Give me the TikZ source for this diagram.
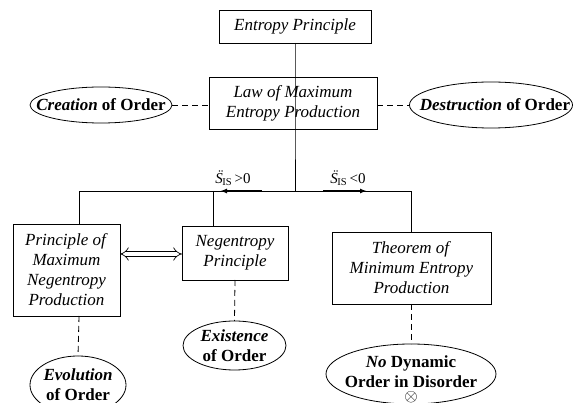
\documentclass[tikz,border=0pt]{standalone}
\usepackage{fontspec}
\setmainfont{Liberation Serif}
\usetikzlibrary{arrows.meta,shapes.geometric}
\newcommand{\myS}{\textit{\accent"A8 S}}
\begin{document}
\begin{tikzpicture}[x=1pt,y=-1pt,
  every node/.style={inner sep=0pt, outer sep=0pt, align=center, font=\fontsize{17}{20}\selectfont},
  box/.style={draw, line width=0.8pt},
  oval/.style={draw, ellipse, line width=0.8pt},
  conn/.style={line width=0.8pt},
  dconn/.style={line width=0.8pt, dash pattern=on 6pt off 4pt},
  lbl/.style={font=\fontsize{15}{15}\selectfont}]
\useasboundingbox (0,0) rectangle (574,403);
% boxes
\node[box, minimum width=152pt, minimum height=33pt] (ep) at (295,26.5) {\textit{Entropy Principle}};
\node[box, minimum width=168pt, minimum height=52pt] (law) at (293,103) {\textit{Law of Maximum}\\\textit{Entropy Production}};
\node[box, minimum width=107pt, minimum height=92pt] (pmnp) at (66.5,270) {\textit{Principle of}\\\textit{Maximum}\\\textit{Negentropy}\\\textit{Production}};
\node[box, minimum width=106pt, minimum height=54pt] (neg) at (235,253) {\textit{Negentropy}\\\textit{Principle}};
\node[box, minimum width=159pt, minimum height=72pt] (thm) at (411.5,268) {\textit{Theorem of}\\\textit{Minimum Entropy}\\\textit{Production}};
% ellipses (outline nodes, text set separately on top)
\node[oval, minimum width=142pt, minimum height=36pt] (cre) at (101,105) {};
\node (cre-t) at (cre.center) {\textbf{\textit{Creation} of Order}};
\node[oval, minimum width=163pt, minimum height=46pt] (des) at (491,105) {};
\node (des-t) at (495,105) {\textbf{\textit{Destruction} of Order}};
\node[oval, minimum width=96pt, minimum height=58pt] (evo) at (78,385) {};
\node (evo-t) at (78,385) {\textbf{\textit{Evolution}}\\\textbf{of Order}};
\node[oval, minimum width=103pt, minimum height=49pt] (exi) at (234.5,345.5) {};
\node (exi-t) at (exi.center) {\textbf{\textit{Existence}}\\\textbf{of Order}};
\node[oval, minimum width=170pt, minimum height=60pt] (nod) at (411,374) {};
\node (nod-t) at (411,372) {\textbf{\textit{No} Dynamic}\\\textbf{Order in Disorder}};
\node (otm) at (411,397) {$\otimes$};
% junction coordinates
\coordinate (j) at (295,191);
\coordinate (jl) at (79,191);
\coordinate (jr) at (411,191);
\coordinate (jn) at (213,191);
\coordinate (al1) at (262,191);
\coordinate (al2) at (220,191);
\coordinate (ar1) at (323,191);
\coordinate (ar2) at (367,191);
% solid connectors
\draw[conn] (ep.south -| j) -- (law.south -| j) -- (j);
\draw[conn] (jl |- pmnp.north) -- (jl) -- (jr) -- (jr |- thm.north);
\draw[conn] (jn) -- (jn |- neg.north);
\draw[line width=1.4pt, -{Latex[length=7pt,width=5pt]}] (al1) -- (al2);
\draw[line width=1.4pt, -{Latex[length=7pt,width=5pt]}] (ar1) -- (ar2);
\draw[double, double distance=4pt, line width=0.7pt, {Implies}-{Implies}] (pmnp.east |- 0,254) -- (neg.west |- 0,254);
% dashed connectors
\draw[dconn] (cre.east) -- (law.west |- cre.east);
\draw[dconn] (law.east |- des.west) -- (des.west);
\draw[dconn] (jl |- pmnp.south) -- (evo.north);
\draw[dconn] (neg.south) -- (exi.north);
\draw[dconn] (thm.south -| nod.north) -- (nod.north);
% labels
\node[lbl] (l1) at (233,178) {\myS\kern-0.5pt\textsubscript{IS}\,>0};
\node[lbl] (l2) at (348,178) {\myS\kern-0.5pt\textsubscript{IS}\,<0};
\end{tikzpicture}
\end{document}
